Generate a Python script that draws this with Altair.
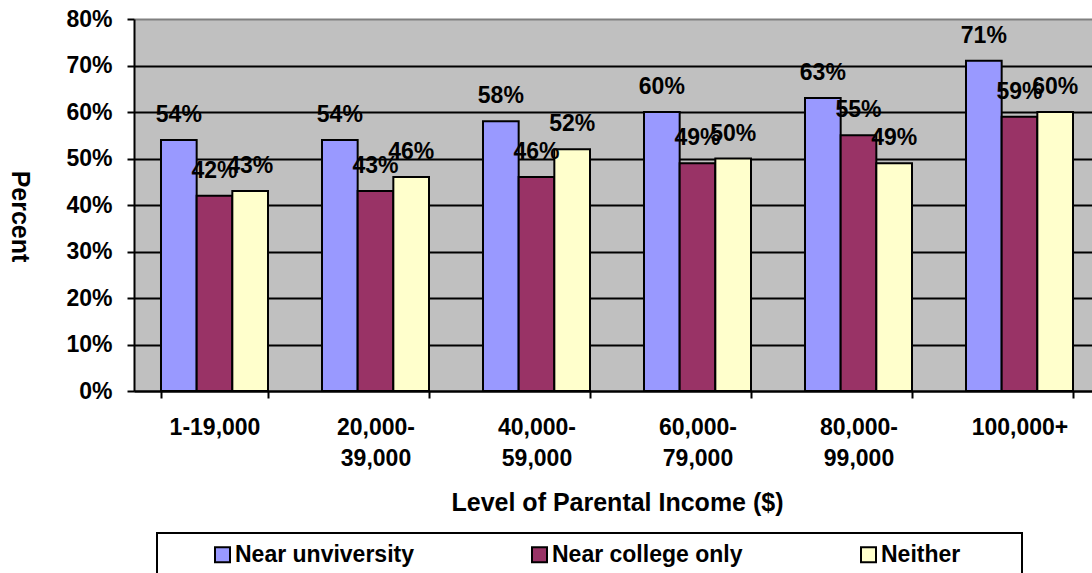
import altair as alt
import pandas as pd

# Share of students (%) by parental income and proximity to a college
income_levels = ["1-19,000", "20,000-39,000", "40,000-59,000",
                 "60,000-79,000", "80,000-99,000", "100,000+"]
proximity = ["Near unviversity", "Near college only", "Neither"]
near_university = [54, 54, 58, 60, 63, 71]
near_college_only = [42, 43, 46, 49, 55, 59]
neither = [43, 46, 52, 50, 49, 60]
bar_colors = ["#9999FF", "#993366", "#FFFFCC"]
y_ticks = [0, 0.1, 0.2, 0.3, 0.4, 0.5, 0.6, 0.7, 0.8]

rows = []
for series, values in zip(proximity, [near_university, near_college_only, neither]):
    for level, v in zip(income_levels, values):
        rows.append({"income": level, "group": series, "share": v / 100})
df = pd.DataFrame(rows)

FONT = "Liberation Sans"

# break "a-b" ranges after the hyphen, keep "1-19,000" on one line
split_label = (
    "indexof(datum.label, '-') > 2 ? "
    "[substring(datum.label, 0, indexof(datum.label, '-') + 1), "
    "substring(datum.label, indexof(datum.label, '-') + 1)] : datum.label"
)

x_enc = alt.X(
    "income:N",
    sort=income_levels,
    scale=alt.Scale(range=[0, 966], paddingInner=0.3354, paddingOuter=0.1677),
    axis=alt.Axis(
        title="Level of Parental Income ($)",
        labelAngle=0,
        labelExpr=split_label,
        labelFont=FONT, labelFontSize=23, labelFontWeight="bold", labelColor="black",
        labelBaseline="top", labelLineHeight=31, labelPadding=18,
        tickBand="extent", tickColor="black", tickWidth=2, tickSize=7,
        domainColor="black", domainWidth=2, grid=False,
        titleFont=FONT, titleFontSize=25, titleFontWeight="bold", titleColor="black",
        titleX=483, titleY=111, titleBaseline="middle", titleAlign="center",
    ),
)

y_enc = alt.Y(
    "share:Q",
    scale=alt.Scale(domain=[0, 0.8]),
    axis=alt.Axis(
        title="Percent",
        values=y_ticks, format=".0%",
        labelFont=FONT, labelFontSize=23, labelFontWeight="bold", labelColor="black",
        labelPadding=15,
        tickColor="black", tickWidth=2, tickSize=7,
        domainColor="black", domainWidth=2,
        grid=True, gridWidth=2,
        gridColor=alt.condition("datum.value >= 0.8", alt.value("#808080"), alt.value("black")),
        titleFont=FONT, titleFontSize=25, titleFontWeight="bold", titleColor="black",
        titleAngle=90, titleX=-115, titleY=197, titleAlign="center", titleBaseline="middle",
    ),
)

x_off = alt.XOffset("group:N", sort=proximity, scale=alt.Scale(paddingInner=0, paddingOuter=0))

base = alt.Chart(df).encode(x=x_enc, xOffset=x_off, y=y_enc)

bars = base.mark_bar(stroke="black", strokeWidth=2).encode(
    color=alt.Color(
        "group:N",
        sort=proximity,
        scale=alt.Scale(domain=proximity, range=bar_colors),
        legend=alt.Legend(
            title=" ", titleOrient="right", titlePadding=52, titleFontSize=10,
            orient="none", direction="horizontal",
            legendX=23, legendY=514,
            symbolType="square", symbolSize=225,
            symbolStrokeColor="black", symbolStrokeWidth=2,
            symbolOffset=44,
            labelFont=FONT, labelFontSize=23, labelFontWeight="bold", labelColor="black",
            labelOffset=1, labelLimit=400, columnPadding=70, padding=10,
            strokeColor="black",
        ),
    )
)

labels = base.mark_text(
    dy=-25, font=FONT, fontSize=23, fontWeight="bold", color="black", baseline="middle"
).encode(text=alt.Text("share:Q", format=".0%"))

chart = (
    alt.layer(bars, labels)
    .properties(
        width=958, height=372,
        autosize=alt.AutoSizeParams(type="none"),
        padding={"left": 134, "top": 19, "right": 0, "bottom": 182},
        background="white",
    )
    .configure_view(fill="#C0C0C0", stroke="transparent")
    .configure_legend(strokeWidth=2)
)

chart.save("out.html", embed_options={"renderer": "svg", "actions": False})
